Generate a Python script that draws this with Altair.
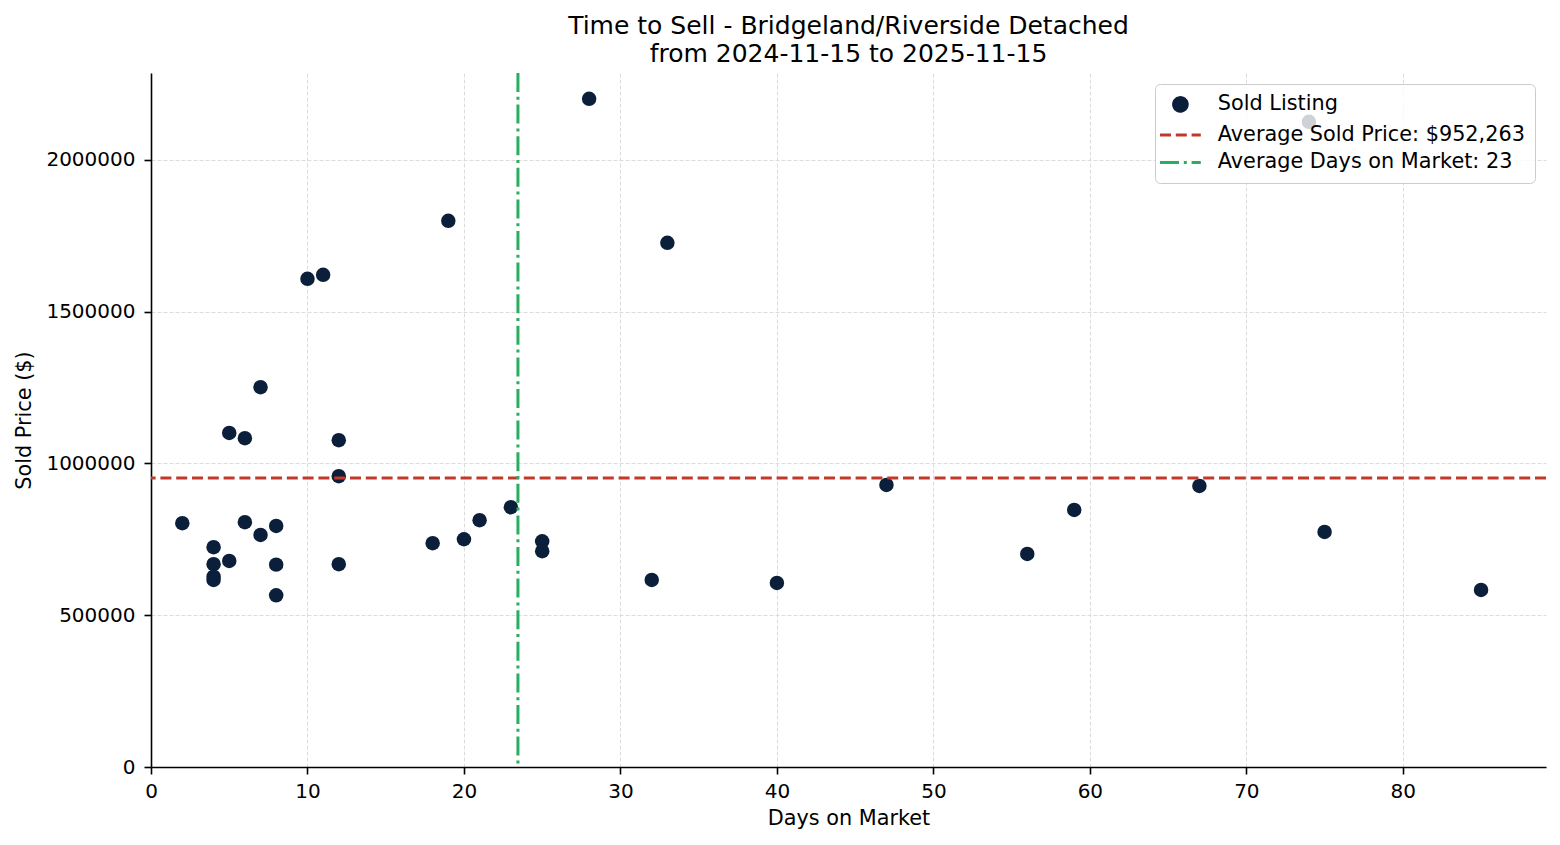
import altair as alt
import pandas as pd

# ---- data ----
days = [2, 7, 5, 6, 12, 12, 23, 21, 20, 18, 25, 25, 6, 7, 8, 4, 5, 4, 4, 4, 8, 12, 8,
        10, 11, 19, 28, 33, 32, 40, 47, 56, 59, 67, 74, 75, 85]
prices = [803000, 1251000, 1100500, 1083000, 1076400, 957800, 855700, 812900, 750200,
          737100, 743600, 710700, 806300, 764400, 794100, 723900, 678700, 667900,
          627000, 616100, 666600, 667900, 565700,
          1607900, 1621100, 1799000, 2201000, 1726500, 616100, 606300, 929200,
          701800, 846800, 925900, 2125200, 774300, 583200]
series_labels = ["Sold Listing", "Average Sold Price: $952,263", "Average Days on Market: 23"]
avg_price = [952263]
avg_days = [23.45]
x_ticks = [0, 10, 20, 30, 40, 50, 60, 70, 80]
y_ticks = [0, 500000, 1000000, 1500000, 2000000]
title_lines = ["Time to Sell - Bridgeland/Riverside Detached", "from 2024-11-15 to 2025-11-15"]

colors = ["#0b1f3b", "#c0392b", "#27ae60"]
FONT = "DejaVu Sans"

pts = pd.DataFrame({"days": days, "price": prices, "series": series_labels[0]})
hline = pd.DataFrame({"price": avg_price, "series": [series_labels[1]]})
vline = pd.DataFrame({"days": avg_days, "series": [series_labels[2]]})

legend = alt.Legend(
    title=None, orient="top-right", offset=11, padding=10,
    fillColor="rgba(255,255,255,0.8)", strokeColor="#cccccc", cornerRadius=5,
    labelFont=FONT, labelFontSize=20.8, labelColor="black", labelLimit=600,
    rowPadding=5.5, symbolSize=185, symbolStrokeWidth=3, symbolOffset=5,
    labelOffset=27, symbolOpacity=1,
)
color_enc = alt.Color("series:N", scale=alt.Scale(domain=series_labels, range=colors), legend=legend)
shape_enc = alt.Shape("series:N", scale=alt.Scale(domain=series_labels,
                      range=["circle", "M-3,0H3", "M-3,0H3"]), legend=legend)
dash_enc = alt.StrokeDash("series:N", scale=alt.Scale(domain=series_labels,
                          range=[[1, 0], [11, 4.8], [19, 4.8, 3, 4.8]]), legend=legend)

xscale = alt.Scale(domain=[0, 89.15], nice=False, zero=False)
yscale = alt.Scale(domain=[0, 2286000], nice=False)
xaxis = alt.Axis(title="Days on Market", values=x_ticks, format="d", titlePadding=7,
                 labelPadding=7, labelFlush=False)
yaxis = alt.Axis(title="Sold Price ($)", values=y_ticks, format="d", titlePadding=11,
                 labelPadding=9, labelFlush=False)

points = alt.Chart(pts).mark_point(filled=True, size=210, opacity=1).encode(
    x=alt.X("days:Q", scale=xscale, axis=xaxis),
    y=alt.Y("price:Q", scale=yscale, axis=yaxis),
    color=color_enc, shape=shape_enc, strokeDash=dash_enc,
)
hrule = alt.Chart(hline).mark_rule(strokeWidth=3).encode(
    y=alt.Y("price:Q", scale=yscale, axis=yaxis),
    color=color_enc, strokeDash=dash_enc,
)
vrule = alt.Chart(vline).mark_rule(strokeWidth=3).encode(
    x=alt.X("days:Q", scale=xscale, axis=xaxis),
    color=color_enc, strokeDash=dash_enc,
)

chart = alt.layer(points, hrule, vrule).properties(
    width=1395, height=694,
    autosize=alt.AutoSizeParams(type="none"),
    padding={"left": 143, "top": 65, "right": 6, "bottom": 70},
    title=alt.TitleParams(text=title_lines, fontSize=25, font=FONT, fontWeight="normal",
                          color="black", anchor="middle", offset=5, lineHeight=28),
).configure_view(stroke=None).configure_axis(
    labelFont=FONT, titleFont=FONT, labelFontSize=20, titleFontSize=20.8,
    labelColor="black", titleColor="black", titleFontWeight="normal",
    domainColor="black", domainWidth=1.6, tickColor="black", tickWidth=1.6, tickSize=7,
    grid=True, gridColor="#dcdcdc", gridDash=[4, 2], gridWidth=1,
).configure_legend(symbolStrokeWidth=3)

chart.save("out.html", embed_options={"renderer": "svg", "actions": False})
